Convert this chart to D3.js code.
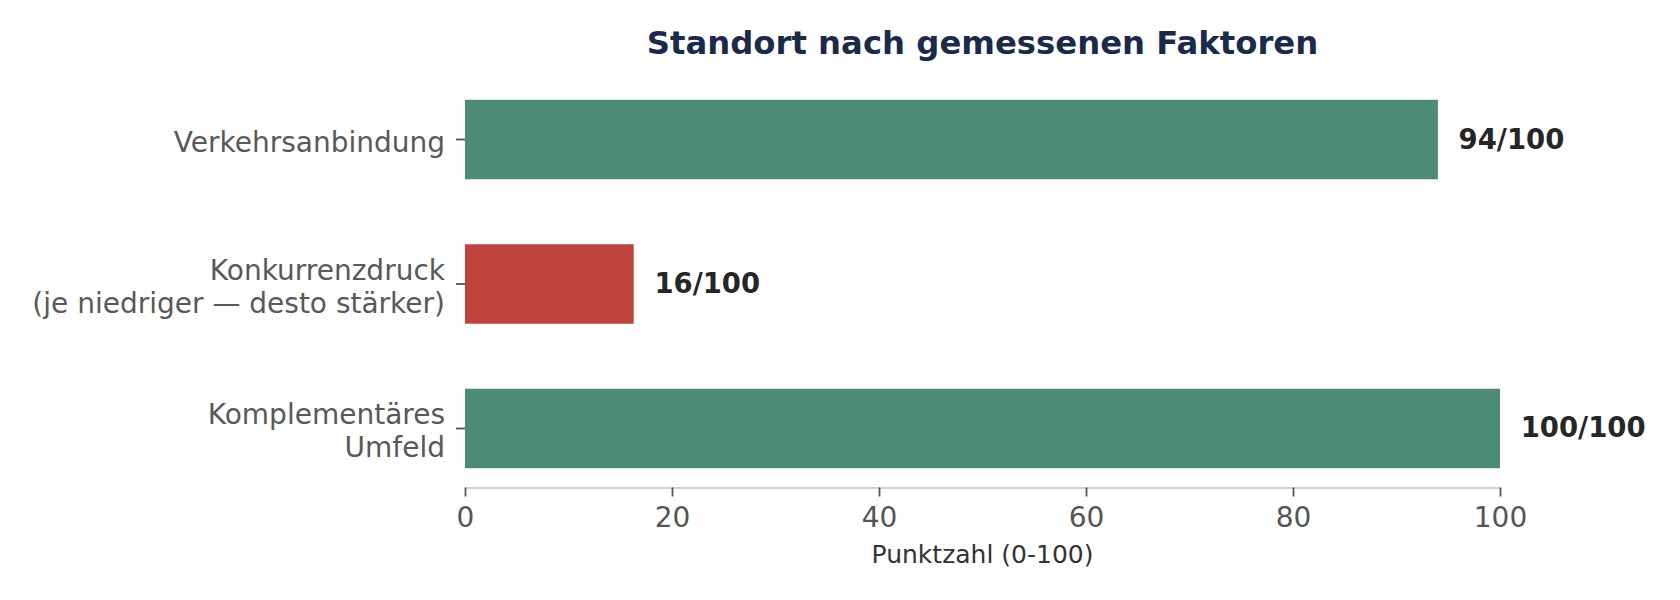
<!DOCTYPE html>
<html>
<head>
<meta charset="utf-8">
<script src="https://cdn.jsdelivr.net/npm/d3@7"></script>
<style>
  body { margin: 0; background: #fff; }
  svg { display: block; font-family: "DejaVu Sans", sans-serif; }
</style>
</head>
<body>
<svg id="chart"></svg>
<script>
// data
const categories = [
  ["Verkehrsanbindung"],
  ["Konkurrenzdruck", "(je niedriger \u2014 desto st\u00e4rker)"],
  ["Komplement\u00e4res", "Umfeld"]
];
const scores = [94, 16.3, 100];
const barColors = ["#4d8b78", "#c0443d", "#4d8b78"];
const xTicks = [0, 20, 40, 60, 80, 100];

const width = 1680, height = 600;
const margin = { top: 81, right: 180, bottom: 113, left: 465 };

const svg = d3.select("#chart")
  .attr("width", width)
  .attr("height", height);

const x = d3.scaleLinear()
  .domain([0, 100])
  .range([margin.left, width - margin.right]);

const y = d3.scaleBand()
  .domain(d3.range(categories.length))
  .range([margin.top, height - margin.bottom])
  .paddingInner(0.45)
  .paddingOuter(0.13);

// title
svg.append("text")
  .attr("x", (x(0) + x(100)) / 2)
  .attr("y", 54)
  .attr("text-anchor", "middle")
  .style("font-size", "32.3px")
  .style("font-weight", "bold")
  .style("fill", "#1c2a4a")
  .text("Standort nach gemessenen Faktoren");

// bars
svg.selectAll("rect.bar")
  .data(scores)
  .enter()
  .append("rect")
  .attr("class", "bar")
  .attr("x", x(0))
  .attr("y", (d, i) => y(i))
  .attr("width", d => x(d) - x(0))
  .attr("height", y.bandwidth())
  .attr("fill", (d, i) => barColors[i]);

// value labels
svg.selectAll("text.val")
  .data(scores)
  .enter()
  .append("text")
  .attr("class", "val")
  .attr("x", d => x(d + 2))
  .attr("y", (d, i) => y(i) + y.bandwidth() / 2 + 9)
  .style("font-size", "27.5px")
  .style("font-weight", "bold")
  .style("fill", "#262626")
  .text(d => `${Math.round(d)}/100`);

// x axis
const axisY = height - margin.bottom + 0.5;
const xAxis = svg.append("g")
  .attr("transform", `translate(0,${axisY})`)
  .call(d3.axisBottom(x).tickValues(xTicks).tickSize(9).tickPadding(11).tickSizeOuter(0));
xAxis.select(".domain")
  .attr("stroke", "#d4d1c5")
  .attr("stroke-width", 2.2);
xAxis.selectAll(".tick line")
  .attr("stroke", "#555")
  .attr("stroke-width", 1.8);
xAxis.selectAll(".tick text")
  .style("font-size", "28px")
  .style("font-family", "DejaVu Sans")
  .style("fill", "#555");

svg.append("text")
  .attr("x", (x(0) + x(100)) / 2)
  .attr("y", 563)
  .attr("text-anchor", "middle")
  .style("font-size", "25px")
  .style("fill", "#333")
  .text("Punktzahl (0-100)");

// y axis ticks + labels
const yG = svg.append("g");
categories.forEach((lines, i) => {
  const cy = y(i) + y.bandwidth() / 2;
  yG.append("line")
    .attr("x1", x(0) - 9).attr("x2", x(0))
    .attr("y1", cy).attr("y2", cy)
    .attr("stroke", "#555")
    .attr("stroke-width", 1.8);
  const lh = 33;
  const startY = cy + 12 - (lines.length - 1) * lh / 2;
  const t = yG.append("text")
    .attr("text-anchor", "end")
    .style("font-size", "28px")
    .style("fill", "#595959");
  lines.forEach((ln, k) => {
    t.append("tspan")
      .attr("x", x(0) - 20)
      .attr("y", startY + k * lh)
      .text(ln);
  });
});
</script>
</body>
</html>
